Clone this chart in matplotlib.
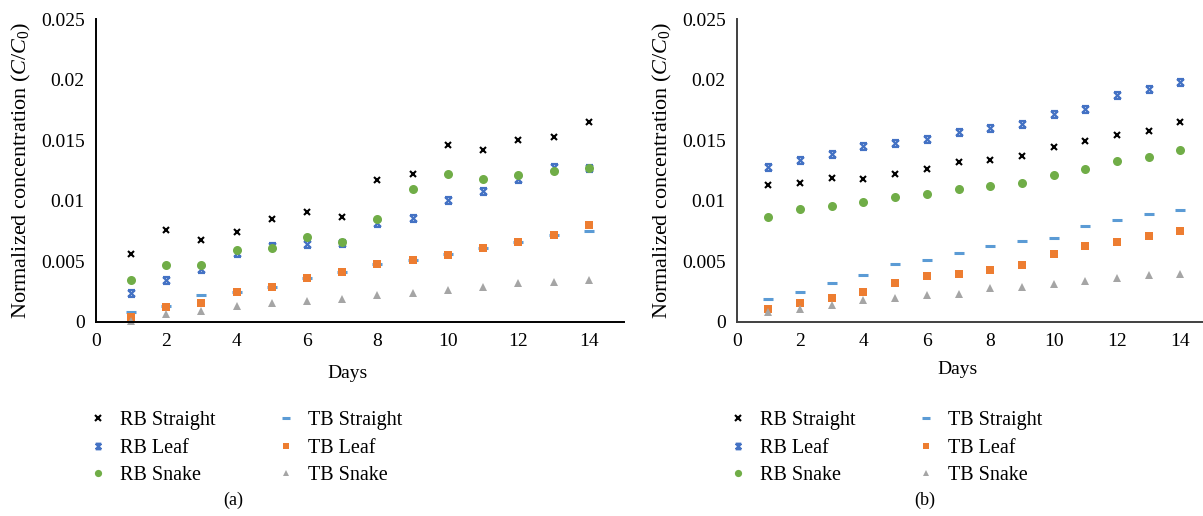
import matplotlib
matplotlib.use("Agg")
import matplotlib.pyplot as plt
from matplotlib.path import Path

plt.rcParams['font.family'] = ['Liberation Serif', 'DejaVu Serif']
plt.rcParams['mathtext.fontset'] = 'custom'
plt.rcParams['mathtext.rm'] = 'Liberation Serif'
plt.rcParams['mathtext.it'] = 'Liberation Serif:italic'

days = [1, 2, 3, 4, 5, 6, 7, 8, 9, 10, 11, 12, 13, 14]
series_names = ["RB Straight", "RB Leaf", "RB Snake", "TB Straight", "TB Leaf", "TB Snake"]

# Panel (a)
a_rb_straight = [0.0056, 0.0076, 0.0068, 0.0074, 0.0085, 0.0091, 0.0087, 0.0117, 0.0122, 0.0146, 0.0142, 0.0150, 0.0153, 0.0165]
a_rb_leaf = [0.0024, 0.0035, 0.0044, 0.0057, 0.0063, 0.0064, 0.0065, 0.0082, 0.0086, 0.0101, 0.0108, 0.0118, 0.0128, 0.0127]
a_rb_snake = [0.0035, 0.0047, 0.0047, 0.0059, 0.0061, 0.0070, 0.0066, 0.0085, 0.0110, 0.0122, 0.0118, 0.0121, 0.0125, 0.0127]
a_tb_straight = [0.0008, 0.0013, 0.0022, 0.0025, 0.0029, 0.0036, 0.0041, 0.0048, 0.0051, 0.0056, 0.0061, 0.0066, 0.0072, 0.0075]
a_tb_leaf = [0.0004, 0.0012, 0.0016, 0.0025, 0.0029, 0.0036, 0.0041, 0.0048, 0.0051, 0.0055, 0.0061, 0.0066, 0.0072, 0.0080]
a_tb_snake = [0.0001, 0.0007, 0.0009, 0.0013, 0.0016, 0.0017, 0.0019, 0.0022, 0.0024, 0.0026, 0.0029, 0.0032, 0.0033, 0.0035]

# Panel (b)
b_rb_straight = [0.0113, 0.0115, 0.0119, 0.0118, 0.0122, 0.0126, 0.0132, 0.0134, 0.0137, 0.0144, 0.0149, 0.0154, 0.0158, 0.0165]
b_rb_leaf = [0.0128, 0.0134, 0.0139, 0.0145, 0.0148, 0.0151, 0.0157, 0.0160, 0.0163, 0.0172, 0.0176, 0.0187, 0.0192, 0.0198]
b_rb_snake = [0.0087, 0.0093, 0.0096, 0.0099, 0.0103, 0.0106, 0.0110, 0.0112, 0.0115, 0.0121, 0.0126, 0.0133, 0.0136, 0.0142]
b_tb_straight = [0.0019, 0.0025, 0.0032, 0.0039, 0.0048, 0.0051, 0.0057, 0.0063, 0.0067, 0.0069, 0.0079, 0.0084, 0.0089, 0.0092]
b_tb_leaf = [0.0011, 0.0016, 0.0020, 0.0025, 0.0032, 0.0038, 0.0040, 0.0043, 0.0047, 0.0056, 0.0063, 0.0066, 0.0071, 0.0075]
b_tb_snake = [0.0008, 0.0011, 0.0014, 0.0018, 0.0020, 0.0022, 0.0023, 0.0028, 0.0029, 0.0031, 0.0034, 0.0036, 0.0039, 0.0040]

x_ticks = [0, 2, 4, 6, 8, 10, 12, 14]
y_ticks = [0, 0.005, 0.01, 0.015, 0.02, 0.025]
y_ticklabels = ["0", "0.005", "0.01", "0.015", "0.02", "0.025"]

# hourglass-like "star" marker
hg = Path([(-1, -1), (1, 1), (-1, 1), (1, -1), (-1, 1), (1, 1), (-1, -1), (1, -1)],
          [Path.MOVETO, Path.LINETO, Path.MOVETO, Path.LINETO,
           Path.MOVETO, Path.LINETO, Path.MOVETO, Path.LINETO])

styles = [
    dict(marker='x', color='black', ms=5, mew=1.5, mfc='black', mec='black'),
    dict(marker=hg, color='#4472C4', ms=5, mew=1.6, mfc='none', mec='#4472C4'),
    dict(marker='o', color='#70AD47', ms=6.5, mew=0, mfc='#70AD47', mec='#70AD47'),
    dict(marker='_', color='#5B9BD5', ms=7, mew=2.2, mfc='#5B9BD5', mec='#5B9BD5'),
    dict(marker='s', color='#ED7D31', ms=5.5, mew=0, mfc='#ED7D31', mec='#ED7D31'),
    dict(marker='^', color='#A5A5A5', ms=5.5, mew=0, mfc='#A5A5A5', mec='#A5A5A5'),
]

W, H = 1203, 516
fig = plt.figure(figsize=(W / 100, H / 100), dpi=100)

FS = 14

def make_panel(rect, data, spine_color, legend_xy, letter, letter_xy, days_xy):
    ax = fig.add_axes(rect)
    for vals, st, name in zip(data, styles, series_names):
        ax.plot(days, vals, linestyle='none', label=name, clip_on=False, **st)
    ax.set_xlim(0, 15)
    ax.set_ylim(0, 0.025)
    ax.set_xticks(x_ticks)
    ax.set_yticks(y_ticks)
    ax.set_yticklabels(y_ticklabels)
    ax.tick_params(length=0, labelsize=FS, pad=8)
    for s in ['top', 'right']:
        ax.spines[s].set_visible(False)
    for s in ['left', 'bottom']:
        ax.spines[s].set_color(spine_color)
        ax.spines[s].set_linewidth(1.4)
    ax.set_ylabel(r'Normalized concentration ($C/C_0$)', fontsize=16, labelpad=6)
    fig.text(days_xy[0] / W, 1 - days_xy[1] / H, 'Days', fontsize=FS, ha='center', va='center')
    fig.text(letter_xy[0] / W, 1 - letter_xy[1] / H, letter, fontsize=FS - 1, ha='center', va='center')
    handles, labels = ax.get_legend_handles_labels()
    fig.legend(handles, labels, ncol=2, loc='upper left',
               bbox_to_anchor=(legend_xy[0] / W, 1 - legend_xy[1] / H),
               frameon=False, fontsize=14.5, handlelength=1.0, handletextpad=0.6,
               columnspacing=3.0, labelspacing=0.42, borderaxespad=0, borderpad=0,
               markerscale=0.8)
    return ax

top, bot = 19, 322
make_panel([95.7 / W, 1 - bot / H, (624 - 95.7) / W, (bot - top) / H],
           [a_rb_straight, a_rb_leaf, a_rb_snake, a_tb_straight, a_tb_leaf, a_tb_snake],
           'black', (88, 411), '(a)', (233, 500), (348, 373))
make_panel([736.7 / W, 1 - bot / H, (1212 - 736.7) / W, (bot - top) / H],
           [b_rb_straight, b_rb_leaf, b_rb_snake, b_tb_straight, b_tb_leaf, b_tb_snake],
           '#404040', (728, 411), '(b)', (925, 500), (958, 370))

fig.savefig('out.png', dpi=100)
